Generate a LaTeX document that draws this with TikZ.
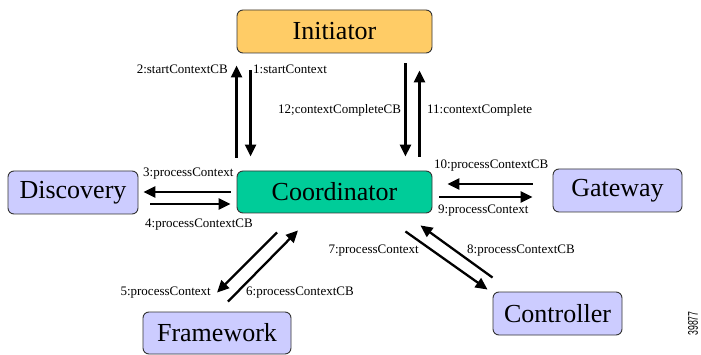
\documentclass[tikz,border=0pt]{standalone}
\usepackage{fontspec}
\setmainfont{Liberation Serif}
\newfontfamily\numfont{Liberation Sans}
\usetikzlibrary{calc,arrows.meta}
\definecolor{initc}{HTML}{FFCC66}
\definecolor{coordc}{HTML}{00CC99}
\definecolor{bluec}{HTML}{CCCCFF}
\definecolor{edgec}{HTML}{333333}
\tikzset{
  box/.style={draw=edgec, line width=0.9pt, rounded corners=6pt, inner sep=0pt,
    font=\rmfamily\fontsize{26}{28}\selectfont},
  arr/.style={line width=2.6pt, -{Triangle[length=12pt,width=11pt]}},
  darr/.style={line width=2.3pt, -{Triangle[length=12pt,width=11pt]}},
  lbl/.style={font=\rmfamily\fontsize{13}{14}\selectfont, inner sep=0pt}
}
\begin{document}
\begin{tikzpicture}[x=1pt,y=-1pt]
\useasboundingbox (0,0) rectangle (701,355);
\node[box, fill=initc, minimum width=195pt, minimum height=43pt] (Initiator) at (334.5,31.5) {Initiator};
\node[box, fill=coordc, minimum width=195pt, minimum height=42pt] (Coordinator) at (334.5,192) {Coordinator};
\node[box, fill=bluec, minimum width=130pt, minimum height=43pt] (Discovery) at (73,192.5) {Discovery};
\node[box, fill=bluec, minimum width=129pt, minimum height=43pt] (Gateway) at (617.5,190.5) {Gateway};
\node[box, fill=bluec, minimum width=129pt, minimum height=43pt] (Controller) at (557.5,313.5) {Controller};
\node[box, fill=bluec, minimum width=148pt, minimum height=42pt] (Framework) at (217,333) {Framework};

% Initiator <-> Coordinator
\draw[arr] ($(Initiator.south west)+(14,17)$) -- ($(Coordinator.north west)+(14,-14)$);
\draw[arr] ($(Coordinator.north west)+(0,-13)$) -- ($(Initiator.south west)+(0,12)$);
\draw[arr] ($(Initiator.south east)+(-27,10)$) -- ($(Coordinator.north east)+(-27,-14)$);
\draw[arr] ($(Coordinator.north east)+(-13,-14)$) -- ($(Initiator.south east)+(-13,17)$);

% Discovery
\draw[arr] ($(Coordinator.west)+(-6,0)$) -- ($(Discovery.east|-Coordinator.west)+(5,0)$);
\draw[arr] ($(Discovery.east|-Coordinator.west)+(12,12)$) -- ($(Coordinator.west)+(-6,12)$);

% Gateway
\draw[arr] ($(Gateway.west|-Coordinator.east)+(-20,-8)$) -- ($(Coordinator.east)+(15,-8)$);
\draw[arr] ($(Coordinator.east)+(7,5)$) -- ($(Gateway.west|-Coordinator.east)+(-20,5)$);

% Framework
\draw[darr] ($(Coordinator.south)+(-57.5,19)$) -- ($(Framework.north)+(0,-19)$);
\draw[darr] ($(Framework.north)+(11,-10)$) -- ($(Coordinator.south)+(-36.5,17)$);

% Controller
\draw[darr] ($(Coordinator.south east)+(-27,18)$) -- ($(Controller.north west)+(-5,-2)$);
\draw[darr] ($(Controller.north west)+(0,-14)$) -- ($(Coordinator.south east)+(-12,12)$);

% labels
\node[lbl, anchor=base east] (l2) at (228,74) {2:startContextCB};
\node[lbl, anchor=base west] (l1) at (253,74) {1:startContext};
\node[lbl, anchor=base west] (l12) at (278,114) {12;contextCompleteCB};
\node[lbl, anchor=base west] (l11) at (427,114) {11:contextComplete};
\node[lbl, anchor=base west] (l3) at (143,177) {3:processContext};
\node[lbl, anchor=base west] (l4) at (145,228) {4:processContextCB};
\node[lbl, anchor=base west] (l10) at (434,169) {10:processContextCB};
\node[lbl, anchor=base west] (l9) at (438,214) {9:processContext};
\node[lbl, anchor=base east] (l7) at (419,254) {7:processContext};
\node[lbl, anchor=base west] (l8) at (467,254) {8:processContextCB};
\node[lbl, anchor=base east] (l5) at (211,295) {5:processContext};
\node[lbl, anchor=base west] (l6) at (246,295) {6:processContextCB};

\node[inner sep=0pt] (fig) at (693,323.5) {\rotatebox{90}{\scalebox{0.62}[1]{\numfont\fontsize{14}{14}\selectfont 39877}}};
\end{tikzpicture}
\end{document}
